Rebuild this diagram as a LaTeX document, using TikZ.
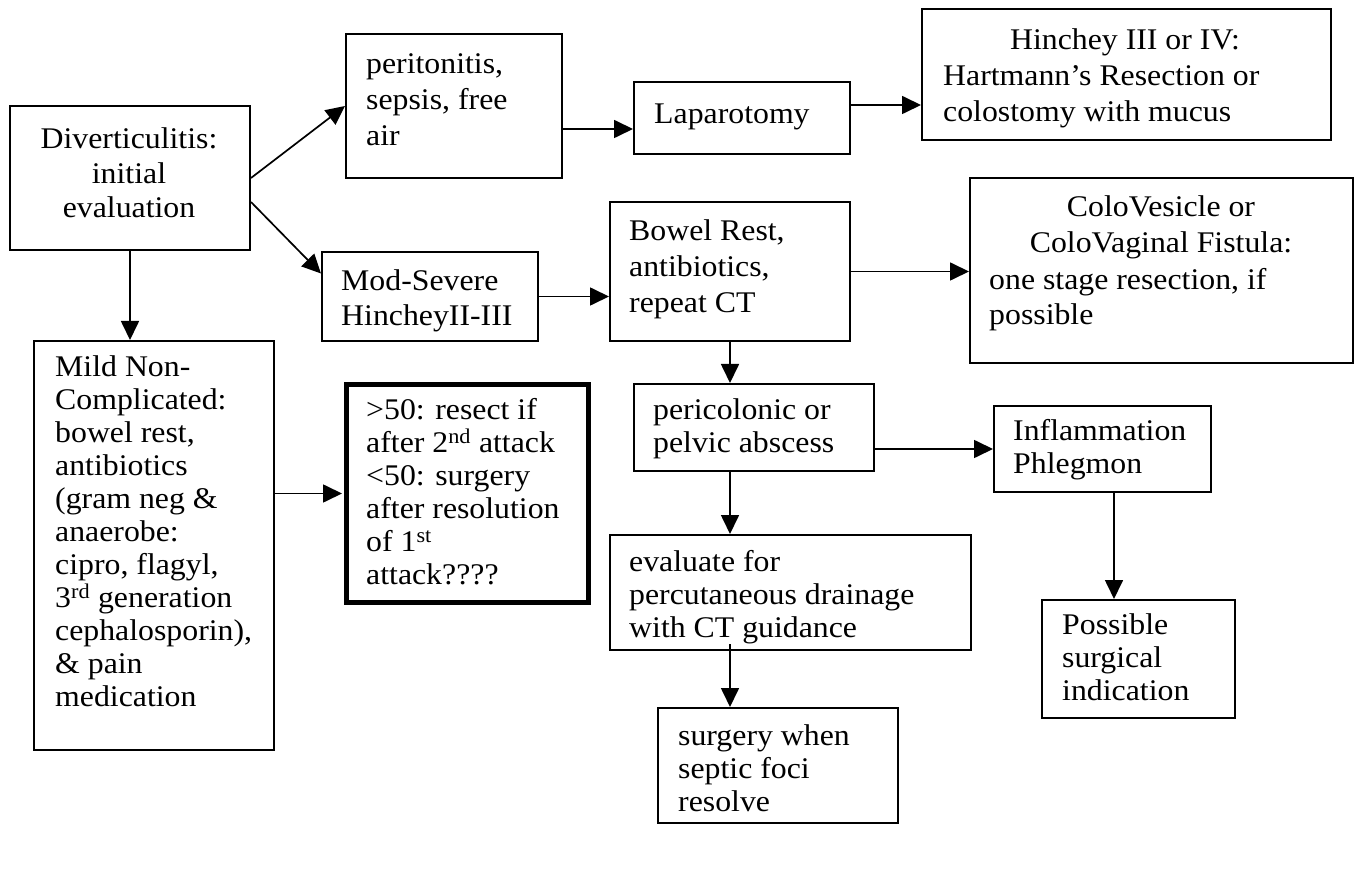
\documentclass[tikz,border=0pt]{standalone}
\usepackage{fontspec}
\setmainfont{Liberation Serif}[FakeStretch=1.06]
\usetikzlibrary{arrows.meta}
\newcommand\ml[2]{\vtop{\baselineskip=#1\lineskiplimit=-1000pt\relax\let\\\cr\halign{##\hfil\cr#2\crcr}}}
\newcommand\mc[2]{\vtop{\baselineskip=#1\lineskiplimit=-1000pt\relax\let\\\cr\halign{\hfil##\hfil\cr#2\crcr}}}
\begin{document}
\begin{tikzpicture}[x=1pt,y=-1pt,
  every node/.style={font=\fontsize{30}{35}\selectfont},
  box/.style={draw, line width=2pt, anchor=north west, inner sep=0pt},
  thickbox/.style={box, line width=5pt},
  txt/.style={anchor=base west, inner sep=0pt},
  ctxt/.style={anchor=base, inner sep=0pt},
  arr/.style={line width=1.7pt, -{Triangle[length=19pt,width=18pt]}}]
\useasboundingbox (0,0) rectangle (1355,882);
\fill[white] (0,0) rectangle (1355,882);
% boxes
\node[box, minimum width=240pt, minimum height=144pt] (div) at (9,105) {};
\node[box, minimum width=216pt, minimum height=144pt] (per) at (345,33) {};
\node[box, minimum width=216pt, minimum height=72pt] (lap) at (633,81) {};
\node[box, minimum width=409pt, minimum height=131pt] (hin) at (921,8) {};
\node[box, minimum width=216pt, minimum height=89pt] (mod) at (321,251) {};
\node[box, minimum width=240pt, minimum height=139pt] (bow) at (609,201) {};
\node[box, minimum width=383pt, minimum height=185pt] (col) at (969,177) {};
\node[thickbox, minimum width=242pt, minimum height=218pt] (res) at (344,382) {};
\node[box, minimum width=240pt, minimum height=409pt] (mild) at (33,340) {};
\node[box, minimum width=240pt, minimum height=87pt] (pc) at (633,383) {};
\node[box, minimum width=217pt, minimum height=86pt] (inf) at (993,405) {};
\node[box, minimum width=361pt, minimum height=115pt] (eva) at (609,534) {};
\node[box, minimum width=193pt, minimum height=118pt] (pos) at (1041,599) {};
\node[box, minimum width=240pt, minimum height=115pt] (sur) at (657,707) {};
% texts
\node[ctxt] (divT) at (129,149) {\mc{34.5pt}{Diverticulitis:\\initial\\evaluation}};
\node[txt] (perT) at (366,74) {\ml{36pt}{peritonitis,\\sepsis, free\\air}};
\node[txt] (lapT) at (654,124) {Laparotomy};
\node[ctxt] (hinT1) at (1125,50) {Hinchey III or IV:};
\node[txt] (hinT2) at (943,86) {\ml{36pt}{Hartmann’s Resection or\\colostomy with mucus}};
\node[txt] (modT) at (341,291) {\ml{35pt}{Mod-Severe\\HincheyII-III}};
\node[txt] (bowT) at (629,241) {\ml{36pt}{Bowel Rest,\\antibiotics,\\repeat CT}};
\node[ctxt] (colT1) at (1161,217) {\mc{36pt}{ColoVesicle or\\ColoVaginal Fistula:}};
\node[txt] (colT2) at (989,290) {\ml{35pt}{one stage resection, if\\possible}};
\node[txt] (resT) at (366,420) {\ml{33pt}{>50: resect if\\after 2\textsuperscript{nd} attack\\<50: surgery\\after resolution\\of 1\textsuperscript{st}\\attack????}};
\node[txt] (mildT) at (55,377) {\ml{33pt}{Mild Non-\\Complicated:\\bowel rest,\\antibiotics\\(gram neg \&\\anaerobe:\\cipro, flagyl,\\3\textsuperscript{rd} generation\\cephalosporin),\\\& pain\\medication}};
\node[txt] (pcT) at (653,420) {\ml{33pt}{pericolonic or\\pelvic abscess}};
\node[txt] (infT) at (1013,440) {\ml{33pt}{Inflammation\\Phlegmon}};
\node[txt] (evaT) at (629,571) {\ml{33pt}{evaluate for\\percutaneous drainage\\with CT guidance}};
\node[txt] (posT) at (1062,634) {\ml{33pt}{Possible\\surgical\\indication}};
\node[txt] (surT) at (678,745) {\ml{33pt}{surgery when\\septic foci\\resolve}};
% connectors
\coordinate (lapin) at ([yshift=-11pt]lap.west);
\coordinate (lapout) at ([yshift=13pt]lap.east);
\coordinate (evab) at (eva.south -| bow.south);
\coordinate (infb) at ([xshift=11.5pt]inf.south);
\coordinate (resin) at ([xshift=-2pt]res.west);
\draw[arr] (div.east) -- (per.west);
\draw[arr] ([yshift=-24pt]div.east) -- ([yshift=23pt]mod.west);
\draw[arr] (div.south) -- (div.south |- mild.north);
\draw[arr] (lapin -| per.east) -- (lapin);
\draw[arr] (lapout) -- (lapout -| hin.west);
\draw[arr] (mod.east) -- (mod.east -| bow.west);
\draw[arr] (bow.east) -- (bow.east -| col.west);
\draw[arr] (bow.south) -- (bow.south |- pc.north);
\draw[arr] (resin -| mild.east) -- (resin);
\draw[arr] (inf.west -| pc.east) -- (inf.west);
\draw[arr] (pc.south -| bow.south) -- (eva.north -| bow.south);
\draw[arr] ([yshift=7pt]evab) -- (sur.north -| evab);
\draw[arr] (infb) -- (infb |- pos.north);
\end{tikzpicture}
\end{document}
